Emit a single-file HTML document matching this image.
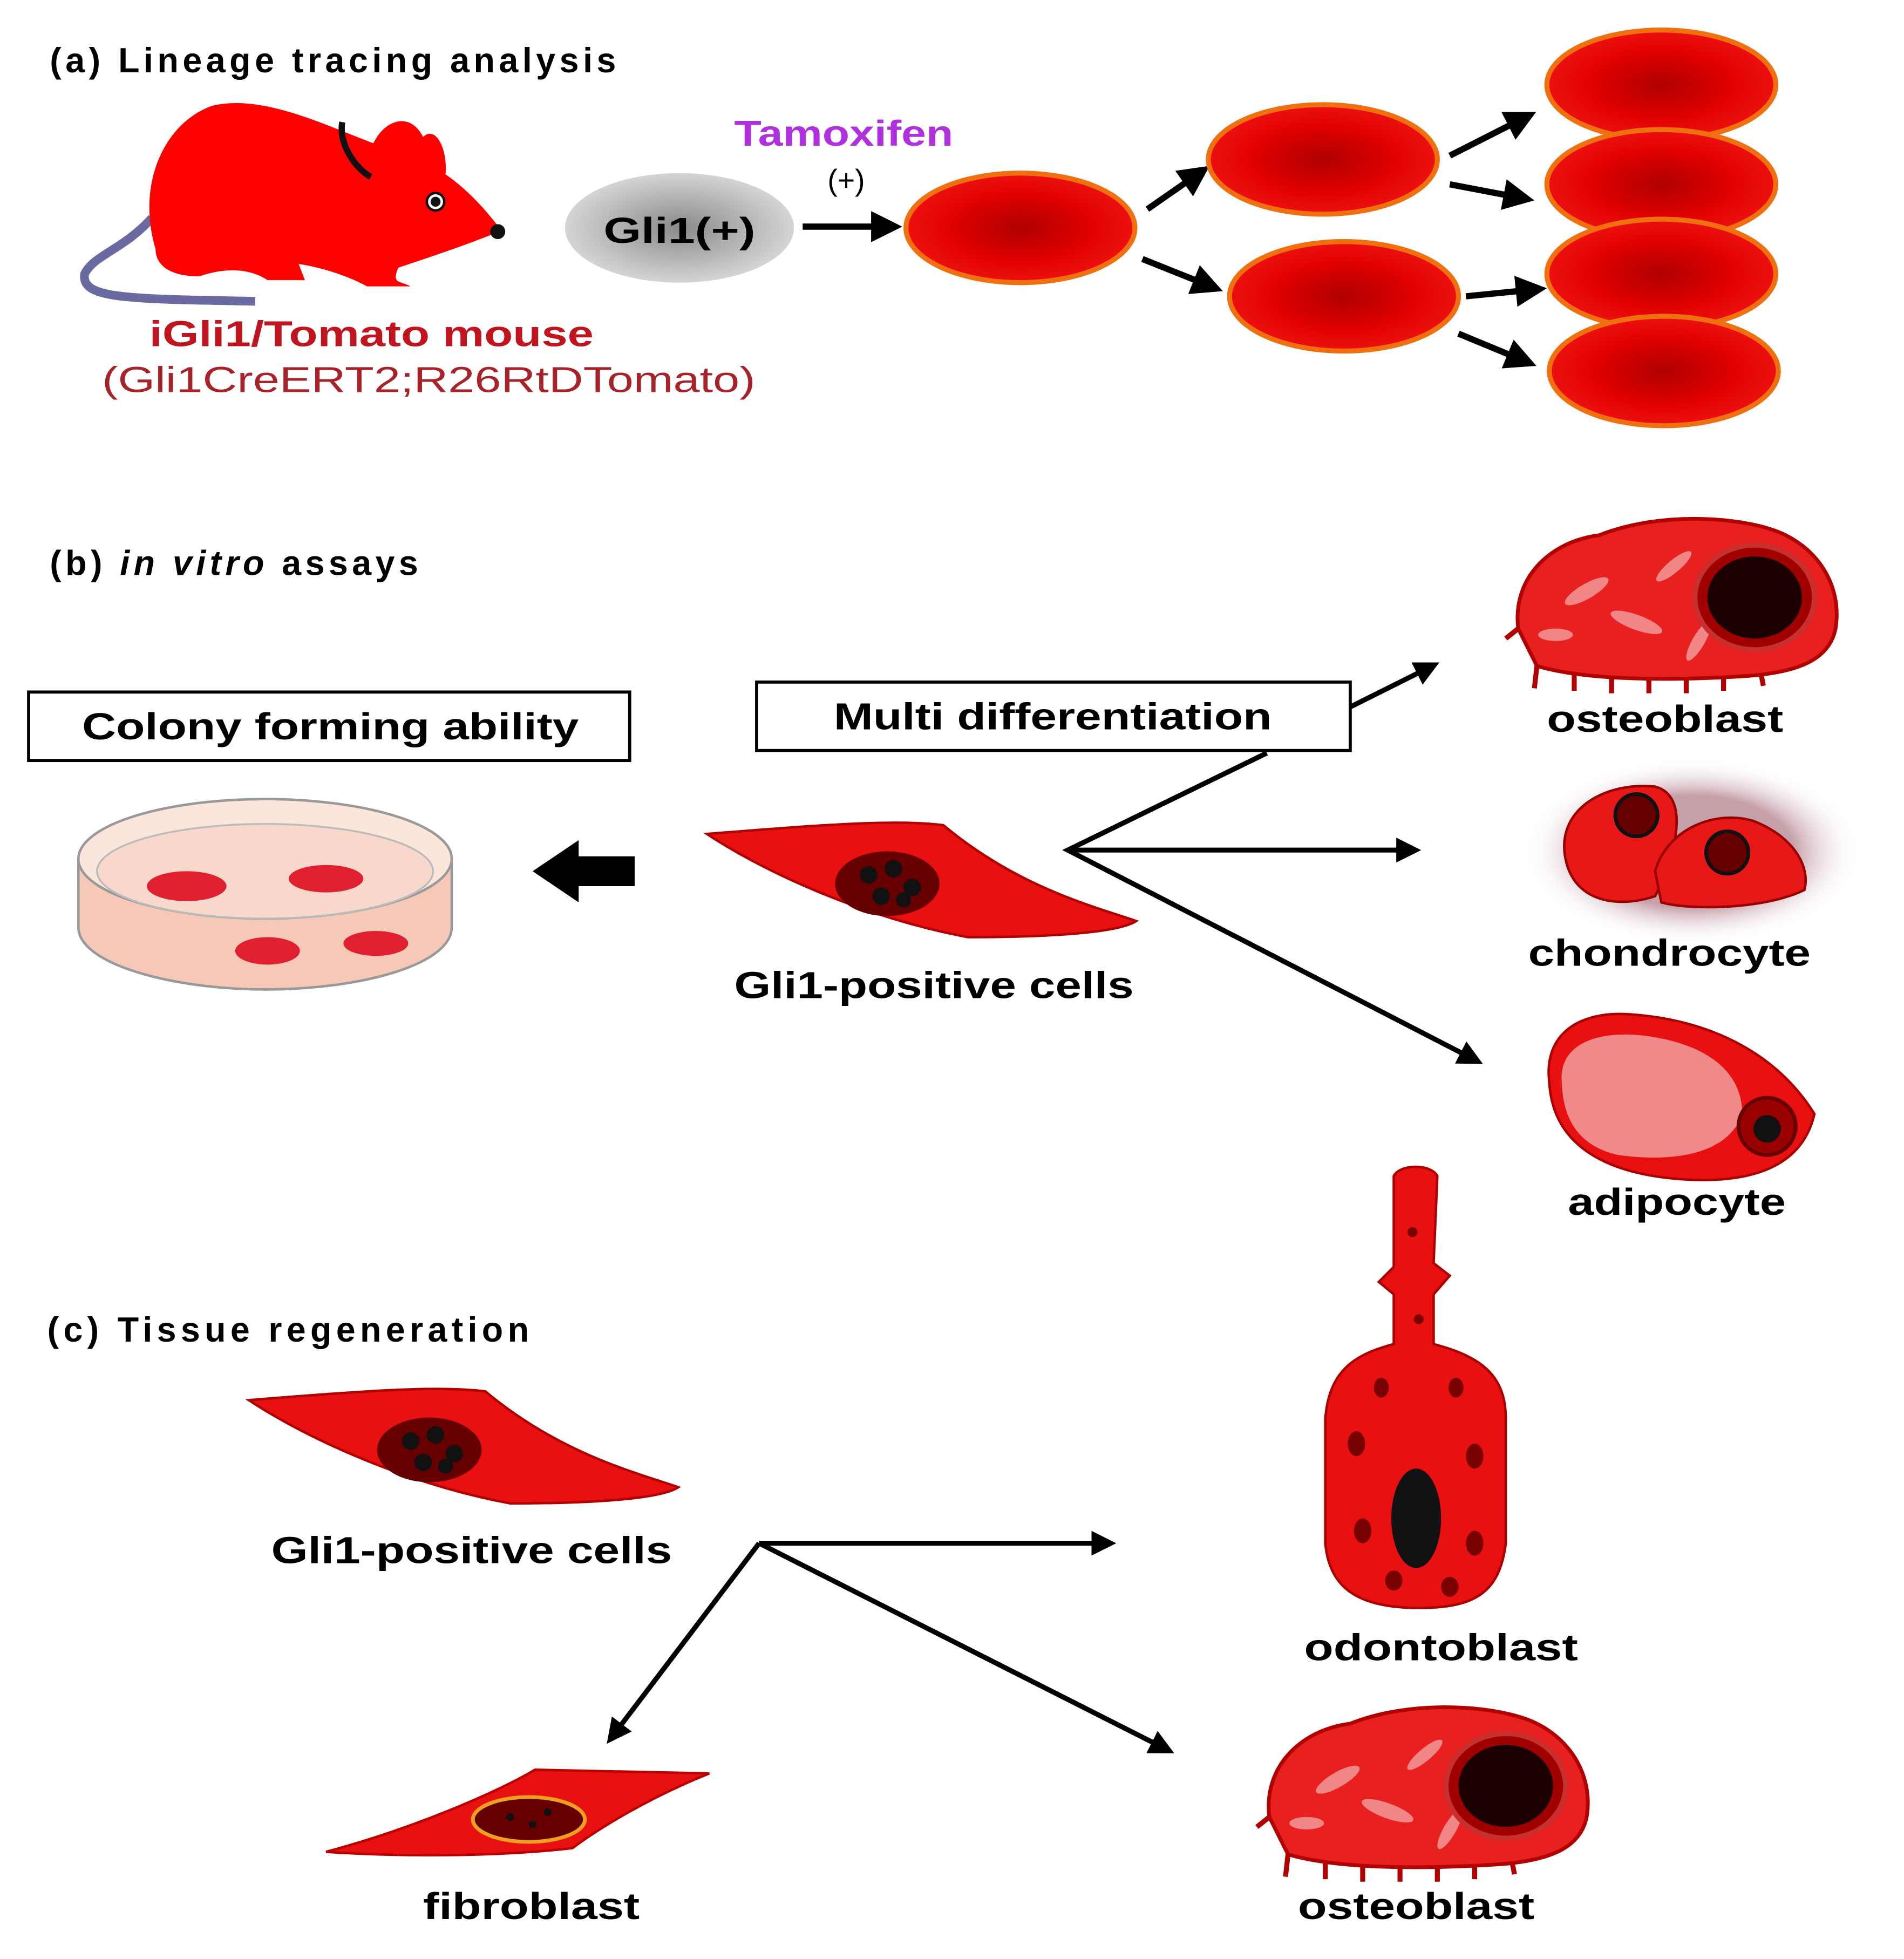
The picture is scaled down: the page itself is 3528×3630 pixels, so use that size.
<!DOCTYPE html>
<html><head><meta charset="utf-8"><style>
html,body{margin:0;padding:0;background:#fff;}
svg{display:block;}
text{font-family:"Liberation Sans",sans-serif;}
</style></head><body>
<svg width="3528" height="3630" viewBox="0 0 1530 1574" xmlns="http://www.w3.org/2000/svg">
<defs>
<radialGradient id="cg" cx="50%" cy="50%" r="50%"><stop offset="0" stop-color="#b00000"/><stop offset="0.6" stop-color="#e00000"/><stop offset="1" stop-color="#ee1010"/></radialGradient>
<radialGradient id="gg" cx="50%" cy="50%" r="50%"><stop offset="0" stop-color="#8a8a8a"/><stop offset="1" stop-color="#d4d4d4"/></radialGradient>
<radialGradient id="halo" cx="50%" cy="50%" r="50%"><stop offset="0.6" stop-color="#a06070"/><stop offset="1" stop-color="#fff" stop-opacity="0"/></radialGradient>
<marker id="ah" viewBox="0 0 10 10" refX="8" refY="5" markerWidth="5" markerHeight="5" orient="auto"><path d="M0,0 L10,5 L0,10 z" fill="#000"/></marker>
<g id="cell"><ellipse rx="92" ry="44" fill="url(#cg)" stroke="#f07010" stroke-width="4"/></g>
<g id="spindle">
<path d="M-170,-38 C-80,-45 -20,-50 20,-45 C80,5 140,20 175,32 C160,42 100,45 40,45 C-40,30 -120,-5 -170,-38 z" fill="#e81010" stroke="#b00000" stroke-width="2"/>
<ellipse cx="-25" cy="2" rx="42" ry="26" fill="#600"/>
<circle cx="-40" cy="-5" r="7" fill="#111"/><circle cx="-20" cy="-10" r="7" fill="#111"/><circle cx="-5" cy="5" r="7" fill="#111"/><circle cx="-30" cy="12" r="7" fill="#111"/><circle cx="-12" cy="15" r="6" fill="#111"/>
</g>
<g id="osteo">
<path d="M-125,20 C-130,-20 -100,-50 -60,-55 C-10,-75 60,-70 90,-55 C120,-40 135,-10 130,20 C125,45 100,55 60,58 C0,62 -70,62 -110,50 z" fill="#e82020" stroke="#b00000" stroke-width="3"/>
<g stroke="#b00000" stroke-width="4"><line x1="-110" y1="50" x2="-112" y2="68"/><line x1="-80" y1="55" x2="-80" y2="70"/><line x1="-50" y1="58" x2="-50" y2="72"/><line x1="-20" y1="60" x2="-20" y2="72"/><line x1="10" y1="60" x2="10" y2="72"/><line x1="40" y1="58" x2="40" y2="70"/><line x1="70" y1="56" x2="72" y2="66"/><line x1="-125" y1="20" x2="-135" y2="28"/></g>
<g fill="#f4a0a0" opacity="0.8"><ellipse cx="-70" cy="-10" rx="20" ry="6" transform="rotate(-30 -70 -10)"/><ellipse cx="-30" cy="15" rx="22" ry="6" transform="rotate(20 -30 15)"/><ellipse cx="-95" cy="25" rx="14" ry="5"/><ellipse cx="0" cy="-30" rx="18" ry="5" transform="rotate(-40 0 -30)"/><ellipse cx="20" cy="30" rx="18" ry="5" transform="rotate(-60 20 30)"/></g>
<ellipse cx="65" cy="-5" rx="48" ry="42" fill="#a00000" stroke="#c83030" stroke-width="4"/>
<ellipse cx="65" cy="-5" rx="38" ry="33" fill="#1a0000"/>
</g>
</defs>

<!-- (a) -->
<text x="40" y="58" font-size="28" font-weight="bold" textLength="455" lengthAdjust="spacing">(a) Lineage tracing analysis</text>
<path d="M122,175 C100,200 75,205 68,220 C65,240 100,240 205,242" fill="none" stroke="#6a6aa0" stroke-width="7"/>
<path d="M125,200 C110,150 130,100 170,85 C210,75 260,100 300,115 C310,95 330,90 340,110 C350,100 360,120 358,140 C380,155 395,175 403,185 C380,195 350,205 320,215 C315,228 320,225 330,230 L295,230 C280,222 260,215 240,212 L245,225 L215,225 C200,215 180,215 160,222 C140,222 125,215 125,200 z" fill="#ff0000"/>
<path d="M275,98 C272,115 285,135 298,142" fill="none" stroke="#111" stroke-width="5"/>
<circle cx="350" cy="162" r="7" fill="#fff" stroke="#111" stroke-width="2"/><circle cx="350" cy="162" r="4" fill="#111"/>
<circle cx="400" cy="186" r="6" fill="#111"/>
<text x="120" y="278" font-size="29" font-weight="bold" fill="#c0141e" textLength="357" lengthAdjust="spacingAndGlyphs">iGli1/Tomato mouse</text>
<text x="82" y="315" font-size="29" fill="#a8222a" textLength="525" lengthAdjust="spacingAndGlyphs">(Gli1CreERT2;R26RtDTomato)</text>
<ellipse cx="546" cy="183" rx="92" ry="44" fill="url(#gg)"/>
<text x="485" y="195" font-size="29" font-weight="bold" textLength="122" lengthAdjust="spacingAndGlyphs">Gli1(+)</text>
<text x="590" y="117" font-size="29" font-weight="bold" fill="#b030e0" textLength="176" lengthAdjust="spacingAndGlyphs">Tamoxifen</text>
<text x="680" y="153" font-size="24" text-anchor="middle">(+)</text>
<g stroke="#000" stroke-width="5" marker-end="url(#ah)">
<line x1="645" y1="182" x2="720" y2="182"/>
<line x1="922" y1="168" x2="968" y2="136"/>
<line x1="918" y1="208" x2="978" y2="232"/>
<line x1="1165" y1="125" x2="1230" y2="92"/>
<line x1="1165" y1="148" x2="1228" y2="160"/>
<line x1="1178" y1="238" x2="1238" y2="232"/>
<line x1="1172" y1="268" x2="1230" y2="292"/>
</g>
<use href="#cell" x="820" y="183"/>
<use href="#cell" x="1063" y="128"/>
<use href="#cell" x="1080" y="238"/>
<use href="#cell" x="1335" y="68"/>
<use href="#cell" x="1335" y="148"/>
<use href="#cell" x="1335" y="220"/>
<use href="#cell" x="1337" y="298"/>

<!-- (b) -->
<text x="40" y="462" font-size="28" font-weight="bold" textLength="296" lengthAdjust="spacing">(b) <tspan font-style="italic">in vitro</tspan> assays</text>
<rect x="23" y="556" width="483" height="55" fill="#fff" stroke="#000" stroke-width="2.5"/>
<text x="66" y="594" font-size="30" font-weight="bold" textLength="399" lengthAdjust="spacingAndGlyphs">Colony forming ability</text>
<rect x="608" y="548" width="477" height="55" fill="#fff" stroke="#000" stroke-width="2.5"/>
<text x="670" y="586" font-size="30" font-weight="bold" textLength="352" lengthAdjust="spacingAndGlyphs">Multi differentiation</text>
<path d="M63,690 L63,745 C63,775 140,795 213,795 C290,795 363,775 363,745 L363,690 z" fill="#f6c8b8" stroke="#999" stroke-width="2"/>
<ellipse cx="213" cy="690" rx="150" ry="48" fill="#fbe6dc" stroke="#999" stroke-width="2"/>
<ellipse cx="213" cy="700" rx="135" ry="38" fill="#f9d8cc" stroke="#bbb" stroke-width="1.5"/>
<g fill="#e02030"><ellipse cx="150" cy="712" rx="32" ry="12"/><ellipse cx="262" cy="706" rx="30" ry="11"/><ellipse cx="215" cy="764" rx="26" ry="11"/><ellipse cx="302" cy="758" rx="26" ry="10"/></g>
<path d="M428,700 L465,675 L465,688 L510,688 L510,712 L465,712 L465,725 z" fill="#000"/>
<use href="#spindle" x="738" y="708"/>
<text x="590" y="802" font-size="30" font-weight="bold" textLength="321" lengthAdjust="spacingAndGlyphs">Gli1-positive cells</text>
<g stroke="#000" stroke-width="4" fill="none">
<polyline points="1018,605 858,683 1188,853" marker-end="url(#ah)"/>
<line x1="858" y1="683" x2="1138" y2="683" marker-end="url(#ah)"/>
<line x1="1085" y1="568" x2="1153" y2="534" marker-end="url(#ah)"/>
</g>
<use href="#osteo" x="1345" y="485"/>
<text x="1243" y="588" font-size="30" font-weight="bold" textLength="190" lengthAdjust="spacingAndGlyphs">osteoblast</text>
<ellipse cx="1360" cy="684" rx="135" ry="75" fill="url(#halo)" opacity="0.6"/>
<path d="M1258,690 C1250,650 1290,628 1330,632 C1360,640 1345,690 1330,720 C1300,730 1265,725 1258,690 z" fill="#e81818" stroke="#900" stroke-width="2"/>
<path d="M1330,700 C1340,665 1380,650 1410,660 C1440,672 1455,695 1450,715 C1420,730 1360,732 1335,725 z" fill="#e81818" stroke="#900" stroke-width="2"/>
<circle cx="1315" cy="655" r="17" fill="#600" stroke="#111" stroke-width="3"/>
<circle cx="1388" cy="685" r="17" fill="#600" stroke="#111" stroke-width="3"/>
<text x="1228" y="776" font-size="30" font-weight="bold" textLength="227" lengthAdjust="spacingAndGlyphs">chondrocyte</text>
<path d="M1245,870 C1240,830 1270,812 1310,815 C1380,820 1430,850 1458,895 C1450,930 1420,950 1360,948 C1290,945 1248,920 1245,870 z" fill="#e81010" stroke="#a00" stroke-width="2"/>
<path d="M1255,870 C1252,838 1285,828 1320,832 C1370,838 1400,860 1400,895 C1390,925 1350,935 1300,928 C1265,920 1256,895 1255,870 z" fill="#f08a8a"/>
<circle cx="1420" cy="905" r="23" fill="#900" stroke="#600" stroke-width="3"/>
<circle cx="1420" cy="907" r="11" fill="#111"/>
<text x="1260" y="976" font-size="30" font-weight="bold" textLength="175" lengthAdjust="spacingAndGlyphs">adipocyte</text>

<!-- (c) -->
<text x="38" y="1078" font-size="28" font-weight="bold" textLength="387" lengthAdjust="spacing">(c) Tissue regeneration</text>
<use href="#spindle" x="370" y="1163"/>
<text x="218" y="1256" font-size="30" font-weight="bold" textLength="322" lengthAdjust="spacingAndGlyphs">Gli1-positive cells</text>
<g stroke="#000" stroke-width="4" fill="none">
<polyline points="610,1240 940,1407" marker-end="url(#ah)"/>
<line x1="610" y1="1240" x2="490" y2="1398" marker-end="url(#ah)"/>
<line x1="610" y1="1240" x2="893" y2="1240" marker-end="url(#ah)"/>
</g>
<path d="M1120,945 C1125,935 1150,935 1155,945 L1152,1015 L1165,1025 L1152,1040 L1152,1080 C1190,1090 1210,1105 1210,1140 L1210,1240 C1205,1280 1185,1292 1140,1292 C1090,1292 1068,1275 1065,1240 L1065,1140 C1068,1100 1090,1088 1120,1080 L1120,1040 L1108,1030 L1120,1018 z" fill="#e81010" stroke="#a00" stroke-width="2"/>
<ellipse cx="1138" cy="1220" rx="20" ry="40" fill="#111"/>
<g fill="#700"><ellipse cx="1090" cy="1160" rx="7" ry="10"/><ellipse cx="1185" cy="1170" rx="7" ry="10"/><ellipse cx="1095" cy="1230" rx="7" ry="10"/><ellipse cx="1185" cy="1240" rx="7" ry="10"/><ellipse cx="1120" cy="1270" rx="7" ry="8"/><ellipse cx="1165" cy="1275" rx="7" ry="8"/><ellipse cx="1110" cy="1115" rx="6" ry="8"/><ellipse cx="1170" cy="1115" rx="6" ry="8"/><circle cx="1135" cy="990" r="4"/><circle cx="1140" cy="1060" r="4"/></g>
<text x="1048" y="1334" font-size="30" font-weight="bold" textLength="220" lengthAdjust="spacingAndGlyphs">odontoblast</text>
<use href="#osteo" x="1145" y="1440"/>
<text x="1043" y="1542" font-size="30" font-weight="bold" textLength="190" lengthAdjust="spacingAndGlyphs">osteoblast</text>
<path d="M262,1488 C330,1470 400,1440 430,1422 L570,1425 C520,1445 480,1470 460,1485 C400,1492 320,1492 262,1488 z" fill="#e81010" stroke="#b00" stroke-width="2"/>
<ellipse cx="425" cy="1462" rx="45" ry="18" fill="#600" stroke="#f0a020" stroke-width="3"/>
<g fill="#111"><circle cx="410" cy="1460" r="3"/><circle cx="428" cy="1466" r="3"/><circle cx="440" cy="1456" r="3"/></g>
<text x="340" y="1542" font-size="30" font-weight="bold" textLength="174" lengthAdjust="spacingAndGlyphs">fibroblast</text>
</svg>
</body></html>
